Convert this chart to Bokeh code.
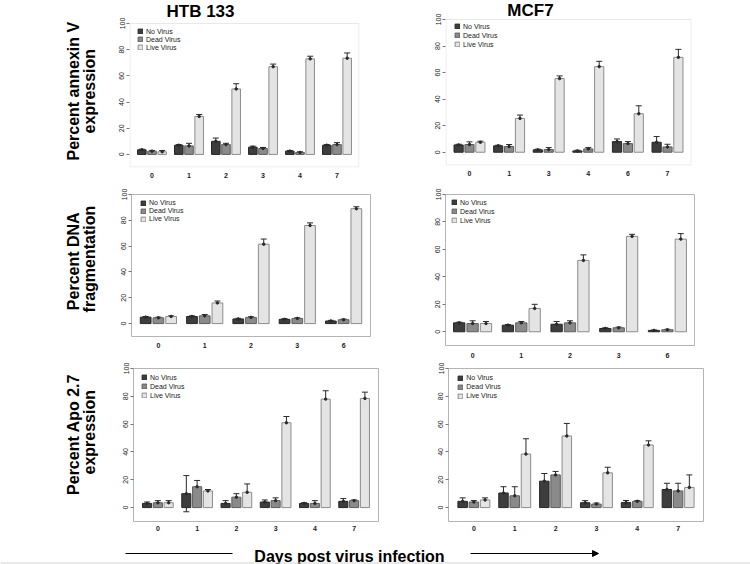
import numpy as np
from bokeh.plotting import figure
from bokeh.models import (Range1d, FixedTicker, Legend, LegendItem, Whisker,
                          TeeHead, ColumnDataSource, Arrow, NormalHead, BoxAnnotation)
from bokeh.layouts import column, row
from bokeh.embed import file_html
from bokeh.resources import INLINE
from bokeh.core.properties import value

FONT = "Liberation Sans"
series = ["No Virus", "Dead Virus", "Live Virus"]
col_titles = ["HTB 133", "MCF7"]
row_titles = [["Percent annexin V", "expression"],
              ["Percent  DNA", "fragmentation"],
              ["Percent  Apo 2.7", "expression"]]
x_title = "Days post virus infection"

# HTB 133 - annexin V
htb_annexin_days = ["0", "1", "2", "3", "4", "7"]
htb_annexin_no = [3.5, 7, 10, 5.5, 2.5, 7]
htb_annexin_dead = [2.5, 6.5, 7.5, 4.5, 1.5, 7.5]
htb_annexin_live = [2, 29, 50, 67, 73, 73.5]
htb_annexin_no_err = [0.5, 0.5, 2.5, 0.8, 0.5, 0.5]
htb_annexin_dead_err = [0.5, 2, 1, 0.8, 0.5, 1.5]
htb_annexin_live_err = [1, 1.5, 4, 2, 2, 4]

# MCF7 - annexin V
mcf_annexin_days = ["0", "1", "3", "4", "6", "7"]
mcf_annexin_no = [5.5, 4.8, 1.8, 1, 8, 7.5]
mcf_annexin_dead = [5.8, 4.3, 2, 2.5, 6.5, 4]
mcf_annexin_live = [7.5, 25.5, 55.5, 64.5, 29, 71.5]
mcf_annexin_no_err = [0.5, 0.5, 0.5, 0.5, 2, 4.3]
mcf_annexin_dead_err = [2, 1.5, 1.5, 1, 1.5, 2]
mcf_annexin_live_err = [0.8, 2.5, 2, 4, 6, 6]

# HTB 133 - DNA fragmentation
htb_dna_days = ["0", "1", "2", "3", "6"]
htb_dna_no = [5, 5.5, 3.6, 3.3, 2]
htb_dna_dead = [4.5, 6, 4.8, 4, 3]
htb_dna_live = [5.5, 16, 61.5, 76, 89]
htb_dna_no_err = [0.5, 0.5, 0.5, 0.5, 0.5]
htb_dna_dead_err = [0.5, 1, 0.5, 0.5, 0.5]
htb_dna_live_err = [0.5, 1.5, 4, 2, 1.5]

# MCF7 - DNA fragmentation
mcf_dna_days = ["0", "1", "2", "3", "6"]
mcf_dna_no = [6.5, 4.8, 5.5, 2.4, 1]
mcf_dna_dead = [6, 6.5, 6.5, 2.9, 1.5]
mcf_dna_live = [6, 17, 52, 69.5, 67.5]
mcf_dna_no_err = [0.5, 0.5, 2, 0.5, 0.3]
mcf_dna_dead_err = [2, 1, 1.5, 0.5, 0.3]
mcf_dna_live_err = [1.5, 3, 4, 1.5, 4]

# HTB 133 - Apo 2.7
htb_apo_days = ["0", "1", "2", "3", "4", "7"]
htb_apo_no = [3, 10, 3, 4, 3, 4.5]
htb_apo_dead = [3.5, 15, 7.5, 5, 3, 5]
htb_apo_live = [3.5, 12, 11, 61, 78, 78.5]
htb_apo_no_err = [1, 13, 2, 1.5, 0.5, 2]
htb_apo_dead_err = [1.5, 4.5, 2.5, 2, 2, 0.5]
htb_apo_live_err = [1.5, 1, 6, 4.5, 6, 4.5]

# MCF7 - Apo 2.7
mcf_apo_days = ["0", "1", "2", "3", "4", "7"]
mcf_apo_no = [4.5, 10.5, 19, 3.5, 3.6, 13]
mcf_apo_dead = [4, 8.5, 23.5, 2.5, 4.5, 12]
mcf_apo_live = [5.5, 38.5, 51.5, 25, 45, 14.5]
mcf_apo_no_err = [2.5, 4.5, 5.5, 1.5, 1.5, 4.5]
mcf_apo_dead_err = [1, 6.5, 2.5, 0.8, 0.5, 5.5]
mcf_apo_live_err = [1.5, 11, 9, 4, 3, 9]

y_ticks = [0, 20, 40, 60, 80, 100]

FILL = ["#3d3d3d", "#8a8a8a", "#e4e4e4"]
EDGE = ["#262626", "#5e5e5e", "#8c8c8c"]
BOXC = "#b4b4b4"
BW = 0.232
OFF = 0.275


def make_panel(days, vals, errs, fig, frame, box_top, spacing, leg, leg_sp, x_stand,
               title=None):
    """fig/frame are page-pixel boxes (left, right, top, bottom)."""
    fl, fr, ft, fb = frame
    n = len(days)
    fw = fr - fl
    fh = fb - ft
    pad = (fw / spacing - (n - 1)) / 2.0
    x0, x1 = -pad, n - 1 + pad
    yscale = (fb - box_top) / 110.0
    y_end = 100 + (box_top - ft) / yscale
    p = figure(frame_width=fw, frame_height=fh,
               min_border_left=fl - fig[0], min_border_right=fig[1] - fr,
               min_border_top=ft - fig[2], min_border_bottom=fig[3] - fb,
               x_range=Range1d(x0, x1), y_range=Range1d(-10, y_end),
               output_backend="svg", toolbar_location=None, tools="")
    p.grid.visible = False
    p.background_fill_color = "white"
    p.border_fill_color = "white"
    if box_top > ft:
        p.outline_line_color = None
        inset = 0.5 / spacing
        p.add_layout(BoxAnnotation(left=x0 + inset, right=x1 - inset, bottom=-10 + 0.5 / yscale,
                                   top=100, fill_alpha=0, line_color=BOXC, line_width=1))
    else:
        p.outline_line_color = BOXC
        p.outline_line_width = 1

    xa = p.xaxis[0]
    xa.ticker = FixedTicker(ticks=list(range(n)))
    xa.major_label_overrides = {i: d for i, d in enumerate(days)}
    xa.axis_line_color = None
    xa.major_tick_line_color = None
    xa.major_tick_out = 0
    xa.major_tick_in = 0
    xa.minor_tick_line_color = None
    xa.minor_tick_out = 0
    xa.major_label_standoff = x_stand
    xa.major_label_text_font = FONT
    xa.major_label_text_font_size = "7px"
    xa.major_label_text_font_style = "bold"
    xa.major_label_text_color = "#222222"

    ya = p.yaxis[0]
    ya.ticker = FixedTicker(ticks=y_ticks)
    ya.axis_line_color = None
    ya.major_tick_line_color = "#777777"
    ya.major_tick_out = 3
    ya.major_tick_in = 0
    ya.minor_tick_line_color = None
    ya.minor_tick_out = 0
    ya.major_label_orientation = "vertical"
    ya.major_label_standoff = 2
    ya.major_label_text_font = FONT
    ya.major_label_text_font_size = "7px"
    ya.major_label_text_color = "#222222"

    items = []
    for j in range(3):
        xs = np.arange(n) + (j - 1) * OFF
        v = np.array(vals[j], dtype=float)
        e = np.array(errs[j], dtype=float)
        src = ColumnDataSource(dict(x=xs, top=v, upper=v + e, lower=v - e))
        r = p.vbar(x="x", top="top", bottom=0, width=BW, source=src,
                   fill_color=FILL[j], line_color=EDGE[j], line_width=1)
        items.append(LegendItem(label=series[j], renderers=[r]))
        p.add_layout(Whisker(source=src, base="x", upper="upper", lower="lower",
                             line_color="#2a2a2a", line_width=1,
                             upper_head=TeeHead(size=6, line_color="#2a2a2a", line_width=1),
                             lower_head=TeeHead(size=6, line_color="#2a2a2a", line_width=1)))
        p.scatter(x="x", y="top", source=src, size=2.5, color="#2a2a2a")

    item_h = 8
    leg_h = 3 * item_h + 2 * leg_sp
    gx, gy = leg
    legend = Legend(items=items, location=(gx - fl, fb - (gy - item_h / 2) - leg_h),
                    background_fill_alpha=0, border_line_alpha=0,
                    label_text_font=FONT, label_text_font_size="7px",
                    label_text_color="#222222",
                    glyph_width=6, glyph_height=6, label_height=item_h,
                    label_standoff=3, spacing=leg_sp, padding=0, margin=0)
    p.add_layout(legend)

    if title is not None:
        tx, ty, ttext = title
        p.text(x=[x0 + (tx - fl) / spacing], y=[100 + (box_top - ty) / yscale], text=[ttext],
               text_font=value(FONT), text_font_style="bold", text_font_size="17px",
               text_align="center", text_baseline="middle", text_color="black")
    return p


def side_label(top, bottom, yc, lines):
    p = figure(width=104, height=bottom - top, x_range=Range1d(0, 104),
               y_range=Range1d(bottom, top), x_axis_type=None, y_axis_type=None,
               output_backend="svg", toolbar_location=None, tools="", min_border=0)
    p.outline_line_color = None
    p.grid.visible = False
    p.text(x=[73, 89], y=[yc, yc], text=lines, angle=np.pi / 2,
           text_font=value(FONT), text_font_style="bold", text_font_size="16px",
           text_align="center", text_baseline="middle", text_color="black")
    return p


pA = make_panel(htb_annexin_days, [htb_annexin_no, htb_annexin_dead, htb_annexin_live],
                [htb_annexin_no_err, htb_annexin_dead_err, htb_annexin_live_err],
                (104, 400, 0, 182), (129, 359, 0, 167), 23, 37.0, (137, 31.3), 0, 5,
                title=(200, 11, col_titles[0]))
pB = make_panel(mcf_annexin_days, [mcf_annexin_no, mcf_annexin_dead, mcf_annexin_live],
                [mcf_annexin_no_err, mcf_annexin_dead_err, mcf_annexin_live_err],
                (400, 750, 0, 182), (445, 691, 0, 165), 19, 39.6, (454, 26), 1, 5,
                title=(530, 10, col_titles[1]))
pC = make_panel(htb_dna_days, [htb_dna_no, htb_dna_dead, htb_dna_live],
                [htb_dna_no_err, htb_dna_dead_err, htb_dna_live_err],
                (104, 400, 182, 358), (131, 370, 194, 336), 194, 46.3, (140, 202.7), 0, 6)
pD = make_panel(mcf_dna_days, [mcf_dna_no, mcf_dna_dead, mcf_dna_live],
                [mcf_dna_no_err, mcf_dna_dead_err, mcf_dna_live_err],
                (400, 750, 182, 358), (445, 694, 190, 341), 190, 48.7, (451, 198.3), 1, 7)
pE = make_panel(htb_apo_days, [htb_apo_no, htb_apo_dead, htb_apo_live],
                [htb_apo_no_err, htb_apo_dead_err, htb_apo_live_err],
                (104, 400, 358, 538), (133, 378, 368, 521), 368, 39.25, (141, 377.3), 1, 4)
pF = make_panel(mcf_apo_days, [mcf_apo_no, mcf_apo_dead, mcf_apo_live],
                [mcf_apo_no_err, mcf_apo_dead_err, mcf_apo_live_err],
                (400, 750, 358, 538), (448, 703, 368, 521), 368, 40.85, (457.3, 377.7), 1, 4)

L1 = side_label(0, 182, 100, row_titles[0])
L2 = side_label(182, 358, 262, row_titles[1])
L3 = side_label(358, 538, 433, row_titles[2])

# Footer (page y 538..564)
pf = figure(width=750, height=26, x_range=Range1d(0, 750), y_range=Range1d(564, 538),
            x_axis_type=None, y_axis_type=None, output_backend="svg",
            toolbar_location=None, tools="", min_border=0)
pf.outline_line_color = None
pf.grid.visible = False
pf.text(x=[349], y=[555.5], text=[x_title], text_font=value(FONT),
        text_font_style="bold", text_font_size="16px", text_align="center",
        text_baseline="alphabetic", text_color="black")
pf.segment(x0=[125], y0=[553], x1=[232], y1=[553], line_color="black", line_width=1)
pf.add_layout(Arrow(x_start=470, y_start=553, x_end=598, y_end=553, line_color="black",
                    line_width=1, end=NormalHead(size=6, fill_color="black", line_color="black")))
# faint frame line along the bottom edge of the figure image
pf.segment(x0=[0], y0=[562.5], x1=[750], y1=[562.5], line_color="#d4d4d4", line_width=1)

layout = column(row(L1, pA, pB, spacing=0), row(L2, pC, pD, spacing=0),
                row(L3, pE, pF, spacing=0), pf, spacing=0)

open("out.html", "w").write(file_html(layout, INLINE))
